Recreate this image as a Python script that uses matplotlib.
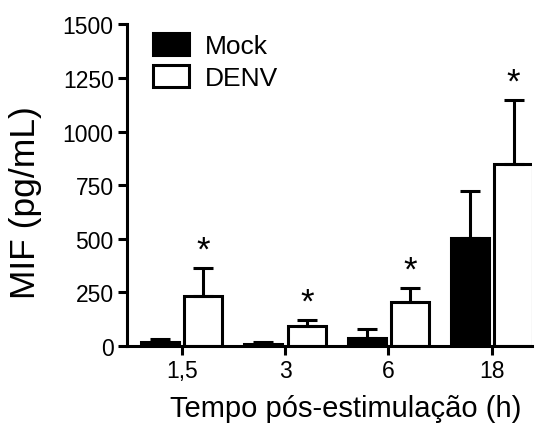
import numpy as np
import matplotlib.pyplot as plt
from matplotlib.patches import Patch

plt.rcParams['font.family'] = ['Liberation Sans', 'DejaVu Sans']

# Data
times = ['1,5', '3', '6', '18']
mock_mean = [18, 10, 40, 503]
mock_err = [15, 10, 38, 221]
denv_mean = [234, 92, 208, 848]
denv_err = [129, 32, 65, 300]
signif = [True, True, True, True]

x = np.arange(len(times))
w = 0.37
off = 0.21

fig = plt.figure(figsize=(5.42, 4.27), dpi=100)
ax = fig.add_axes([0.234, 0.187, 0.748, 0.754])

lw = 2.2
ax.bar(x - off, mock_mean, w, color='black', edgecolor='black', linewidth=lw,
       yerr=[np.zeros(len(x)), mock_err], capsize=7,
       error_kw=dict(elinewidth=lw, capthick=lw, ecolor='black'))
ax.bar(x + off, denv_mean, w, color='white', edgecolor='black', linewidth=lw,
       yerr=[np.zeros(len(x)), denv_err], capsize=7,
       error_kw=dict(elinewidth=lw, capthick=lw, ecolor='black'))

# significance stars above DENV error bars
for xi, m, e, s in zip(x, denv_mean, denv_err, signif):
    if s:
        ax.annotate('*', (xi + off, m + e), xytext=(0, 1), textcoords='offset points',
                    ha='center', va='bottom', fontsize=25)

ax.set_xlim(-0.53, 3.39)
ax.set_ylim(0, 1500)
ax.set_yticks([0, 250, 500, 750, 1000, 1250, 1500])
ax.set_xticks(x)
ax.set_xticklabels(times)

for side in ['top', 'right']:
    ax.spines[side].set_visible(False)
for side in ['left', 'bottom']:
    ax.spines[side].set_linewidth(lw)
ax.tick_params(width=lw, length=6.5, labelsize=16.5, direction='out', pad=3)

ax.set_ylabel('MIF (pg/mL)', fontsize=25.5)
ax.yaxis.set_label_coords(-0.21, 0.45)
ax.set_xlabel('Tempo pós-estimulação (h)', fontsize=21)
ax.xaxis.set_label_coords(0.54, -0.15)

handles = [Patch(facecolor='black', edgecolor='black', linewidth=lw),
           Patch(facecolor='white', edgecolor='black', linewidth=lw)]
ax.legend(handles, ['Mock', 'DENV'], loc='upper left', bbox_to_anchor=(0.02, 1.03),
          frameon=False, fontsize=19, handlelength=1.35, handleheight=0.9,
          handletextpad=0.6, labelspacing=0.25, borderaxespad=0.3)

plt.savefig('out.png', dpi=100)
